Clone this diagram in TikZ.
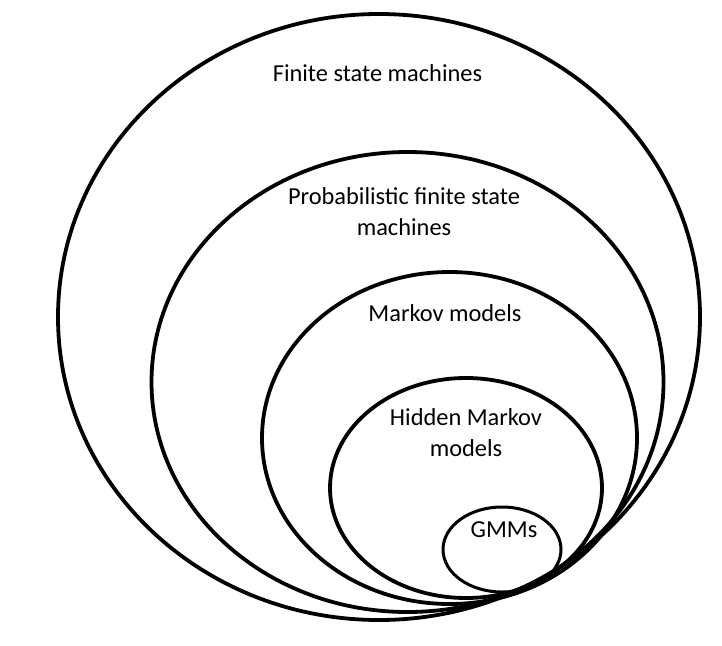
\documentclass[tikz,border=0pt]{standalone}
\usepackage{fontspec}
\setmainfont{Carlito}
\usepackage{tikz}
\tikzstyle{ring}=[line width=3.8pt]
\tikzstyle{lbl}=[inner sep=0pt,anchor=base,align=center,font=\fontsize{24.4}{31}\selectfont]

\begin{document}
\begin{tikzpicture}[x=1pt,y=-1pt]
\useasboundingbox (0,0) rectangle (722,645);

\draw[ring] (379,317) ellipse [x radius=321pt,y radius=303pt];
\draw[ring] (407.5,382) ellipse [x radius=256pt,y radius=230pt];
\draw[ring] (449.5,438) ellipse [x radius=187.5pt,y radius=166pt];
\draw[ring] (466,488) ellipse [x radius=136pt,y radius=110pt];
\draw[line width=3pt] (502,549.5) ellipse [x radius=59pt,y radius=42.5pt];

% base anchor of a two-line label sits on its last line
\node[lbl] (fsm) at (377.5,81) {Finite state machines};
\node[lbl] (pfsm) at (404,235) {Probabilistic finite state\\machines};
\node[lbl] (mm) at (445,321) {Markov models};
\node[lbl] (hmm) at (466,456) {Hidden Markov\\models};
\node[lbl] (gmm) at (504,537) {GMMs};

\end{tikzpicture}
\end{document}
